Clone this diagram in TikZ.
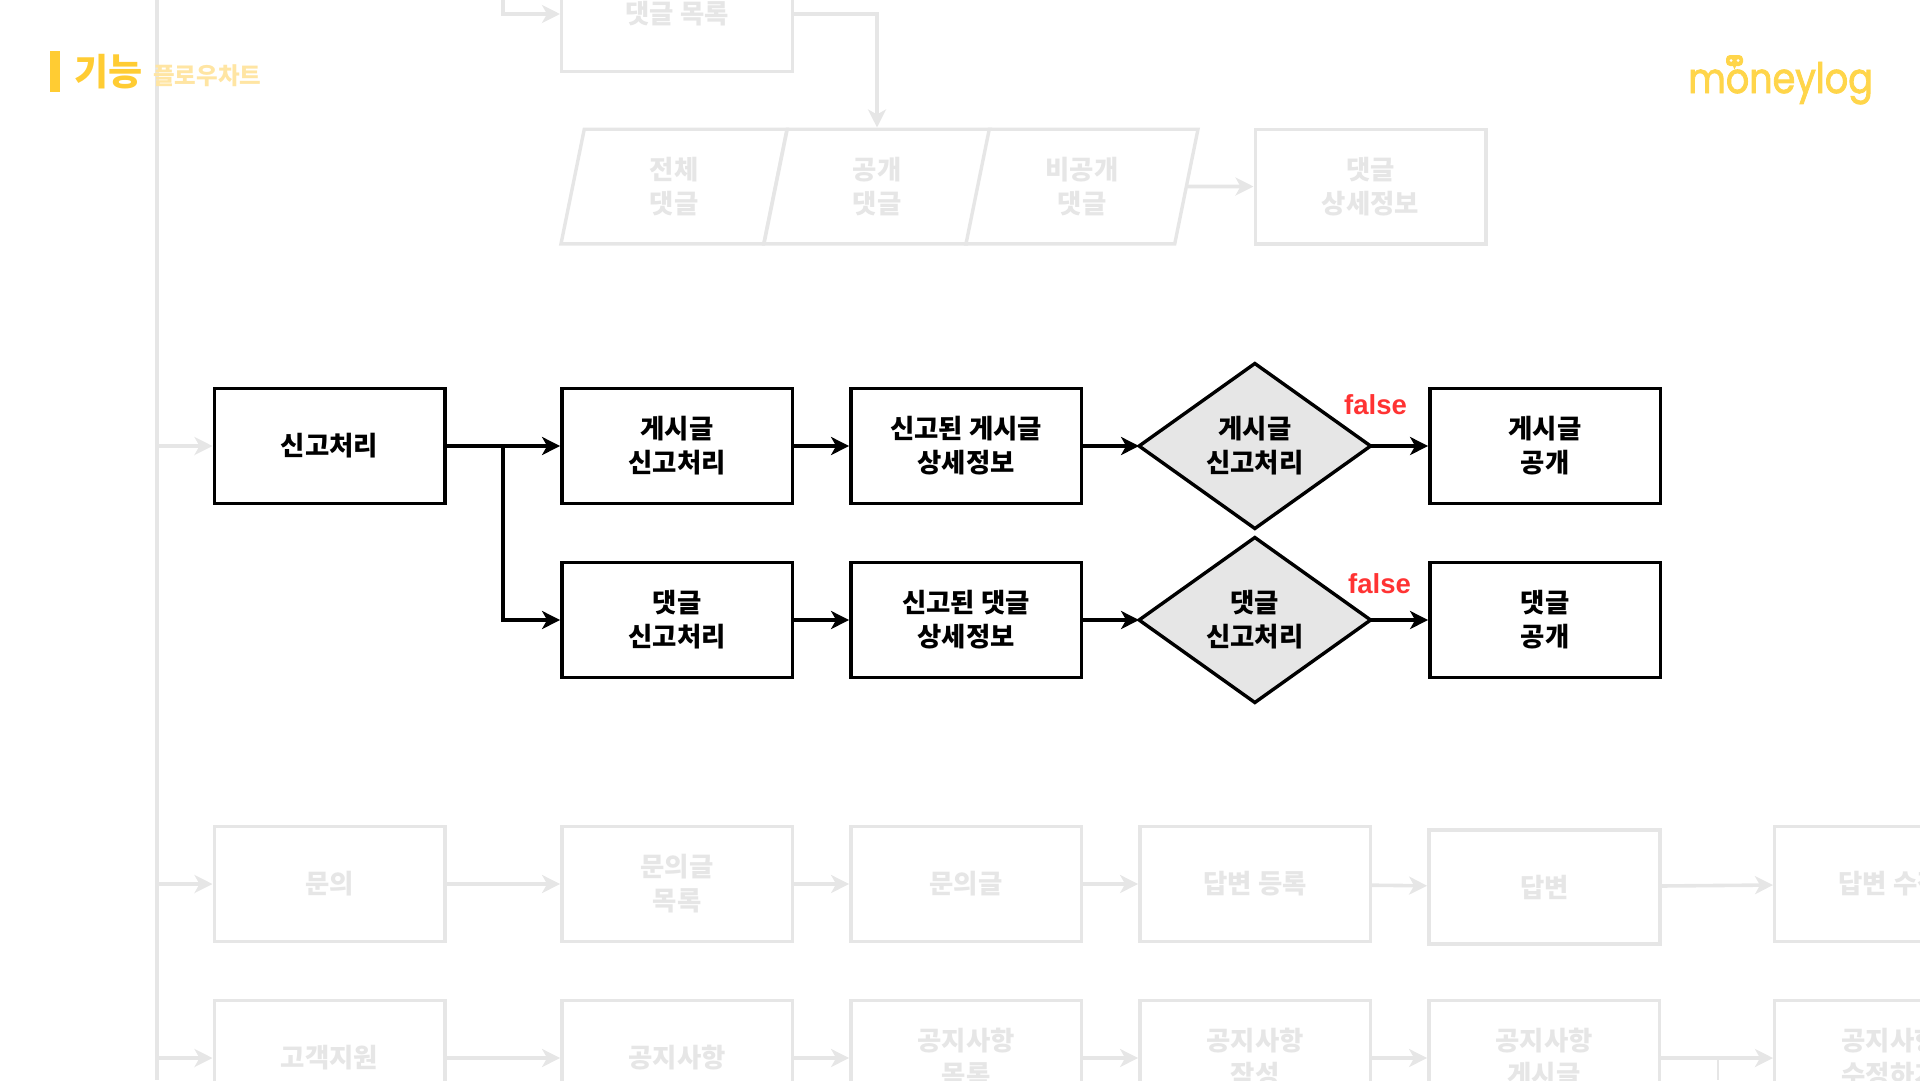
\documentclass[tikz,border=0pt]{standalone}
\usepackage{fontspec}
\setmainfont{Noto Sans CJK KR}
\newfontfamily\logofont[FakeStretch=0.87,FakeBold=2]{Poppins}
\newfontfamily\labelfont{Liberation Sans}
\definecolor{MoneyBlack}{HTML}{000000}
\definecolor{MoneyWhite}{HTML}{ffffff}
\definecolor{MoneyFaded}{HTML}{E6E6E6}
\definecolor{MoneyGold}{HTML}{FFCC33}
\definecolor{MoneyPale}{HTML}{FFE5A3}
\definecolor{MoneyLogo}{HTML}{FFD54A}
\definecolor{MoneyRed}{HTML}{FF3333}
\usetikzlibrary{shapes.geometric,arrows.meta,positioning}
\tikzset{
    % Sharp-cornered boxes
    process/.style={
        rectangle,
        draw=MoneyBlack,
        line width=3.4pt,
        fill=MoneyWhite,
        text=MoneyBlack,
        minimum width=230.6pt,
        minimum height=114.6pt,
        inner sep=0pt,
        align=center,
        font=\fontsize{26.4}{34}\selectfont\bfseries
    },
    process faded/.style={
        process,
        draw=MoneyFaded,
        text=MoneyFaded
    },
    slanted faded/.style={
        process faded,
        trapezium,
        trapezium left angle=68.4,
        trapezium right angle=111.6,
        trapezium stretches body=true,
        minimum height=114.6pt
    },
    decision/.style={
        diamond,
        draw=MoneyBlack,
        line width=3.4pt,
        fill=MoneyFaded,
        text=MoneyBlack,
        minimum width=231.5pt,
        minimum height=165pt,
        inner sep=0pt,
        outer sep=0pt,
        aspect=1.4,
        align=center,
        font=\fontsize{26.4}{34}\selectfont\bfseries
    },
    arrow/.style={
        -{Stealth[length=18pt,width=18pt,inset=5pt]},
        line width=3.4pt,
        color=MoneyBlack
    },
    arrow faded/.style={
        arrow,
        line width=3.6pt,
        color=MoneyFaded
    },
    false label/.style={
        text=MoneyRed,
        inner sep=0pt,
        font=\labelfont\fontsize{27.5}{30}\selectfont\bfseries
    }
}

\begin{document}
\begin{tikzpicture}[x=1pt, y=-1pt, node distance=55pt]
    \path[use as bounding box, clip] (0,0) rectangle (1920,1080);

    % side rail
    \coordinate (railTop) at (157,0);
    \coordinate (railBottom) at (157,1080);
    \draw[MoneyFaded, line width=3.4pt] (railTop) -- (railBottom);

    % header
    \node[fill=MoneyGold, minimum width=10pt, minimum height=41pt, inner sep=0pt] (titleBar) at (55,71.5) {};
    \node[right=14pt of titleBar, inner sep=0pt, text=MoneyGold, font=\fontsize{37}{37}\selectfont\bfseries] (title) {기능};
    \node[anchor=west, inner sep=0pt, text=MoneyPale, font=\fontsize{23.5}{24}\selectfont\bfseries] (subtitle) at (153,75.5) {플로우차트};
    \node[anchor=base west, inner sep=0pt, text=MoneyLogo, font=\logofont\fontsize{42}{42}\selectfont] (logo) at (1688,93) {moneylog};
    \node[fill=MoneyLogo, rounded corners=4pt, minimum width=17pt, minimum height=11pt, inner sep=0pt] (logoHead) at (1734.5,60.5) {};
    \node[fill=MoneyLogo, isosceles triangle, shape border rotate=-90, minimum size=3pt, inner sep=0pt] (logoTip) at (1734.5,67) {};
    \node[fill=MoneyWhite, circle, minimum size=3pt, inner sep=0pt] (logoEyeL) at (1731,60.5) {};
    \node[fill=MoneyWhite, circle, minimum size=3pt, inner sep=0pt] (logoEyeR) at (1738,60.5) {};

    % faded upper part
    \coordinate (listIn) at (503,0);
    \node[process faded] (list) at (677,14) {댓글 목록};
    \node[slanted faded, minimum width=226pt] (allReply) at (674,186.5) {전체\\댓글};
    \node[slanted faded, minimum width=226pt] (openReply) at (877,186.5) {공개\\댓글};
    \node[slanted faded, minimum width=232pt] (closedReply) at (1082,186.5) {비공개\\댓글};
    \node[process faded] (replyDetail) at (1370.5,186.5) {댓글\\상세정보};

    \draw[arrow faded] (listIn) |- (list.west);
    \draw[arrow faded] (list.east) -| (openReply.north);
    \draw[arrow faded] (closedReply.east) -- (replyDetail.west);

    % faded lower part
    \node[process faded] (ask) at (329.5,884) {문의};
    \node[process faded, right=113.6pt of ask] (askList) {문의글\\목록};
    \node[process faded, right=of askList] (askPost) {문의글};
    \node[process faded, right=of askPost] (answerAdd) {답변 등록};
    \node[process faded, line width=4pt, right=of answerAdd, yshift=-3pt] (answer) {답변};
    \node[process faded] (answerEdit) at (1890,884) {답변 수정};

    \node[process faded] (support) at (329.5,1058) {고객지원};
    \node[process faded, right=113.6pt of support] (notice) {공지사항};
    \node[process faded, right=of notice] (noticeList) {공지사항\\목록};
    \node[process faded, right=of noticeList] (noticeAdd) {공지사항\\작성};
    \node[process faded, right=of noticeAdd] (noticePost) {공지사항\\게시글};
    \node[process faded] (noticeEdit) at (1890,1058) {공지사항\\수정하기};

    \draw[arrow faded] (railTop |- ask.west) -- (ask.west);
    \draw[arrow faded] (ask) -- (askList);
    \draw[arrow faded] (askList) -- (askPost);
    \draw[arrow faded] (askPost) -- (answerAdd);
    \draw[arrow faded] (answerAdd) -- (answer);
    \draw[arrow faded] (answer) -- (answerEdit);

    \coordinate (noticeBranch) at (1717.5,1058);
    \coordinate (noticeDrop) at (1717.5,1080);
    \draw[arrow faded] (railTop |- support.west) -- (support.west);
    \draw[arrow faded] (support) -- (notice);
    \draw[arrow faded] (notice) -- (noticeList);
    \draw[arrow faded] (noticeList) -- (noticeAdd);
    \draw[arrow faded] (noticeAdd) -- (noticePost);
    \draw[arrow faded] (noticePost) -- (noticeEdit);
    \draw[MoneyFaded, line width=2pt] (noticeBranch) -- (noticeDrop);

    % report flow
    \node[process] (report) at (329.5,446) {신고처리};
    \node[process, right=113.6pt of report] (postReport) {게시글\\신고처리};
    \node[process, right=of postReport] (postDetail) {신고된 게시글\\상세정보};
    \node[decision, right=56pt of postDetail] (postCheck) {게시글\\신고처리};
    \node[process, right=57.5pt of postCheck] (postOpen) {게시글\\공개};

    \node[process, below=56pt of postReport] (replyReport) {댓글\\신고처리};
    \node[process, right=of replyReport] (replyFlagged) {신고된 댓글\\상세정보};
    \node[decision, right=56pt of replyFlagged] (replyCheck) {댓글\\신고처리};
    \node[process, right=57.5pt of replyCheck] (replyOpen) {댓글\\공개};

    \node[false label] (postFalse) at (1375.5,405) {false};
    \node[false label] (replyFalse) at (1379.5,584) {false};

    \coordinate (reportBranch) at (503,446);
    \draw[arrow faded] (railTop |- report.west) -- (report.west);
    \draw[arrow] (report) -- (postReport);
    \draw[arrow] (report) -- (reportBranch) |- (replyReport.west);
    \draw[arrow] (postReport) -- (postDetail);
    \draw[arrow] (postDetail) -- (postCheck);
    \draw[arrow] (postCheck) -- (postOpen);
    \draw[arrow] (replyReport) -- (replyFlagged);
    \draw[arrow] (replyFlagged) -- (replyCheck);
    \draw[arrow] (replyCheck) -- (replyOpen);
\end{tikzpicture}
\end{document}
